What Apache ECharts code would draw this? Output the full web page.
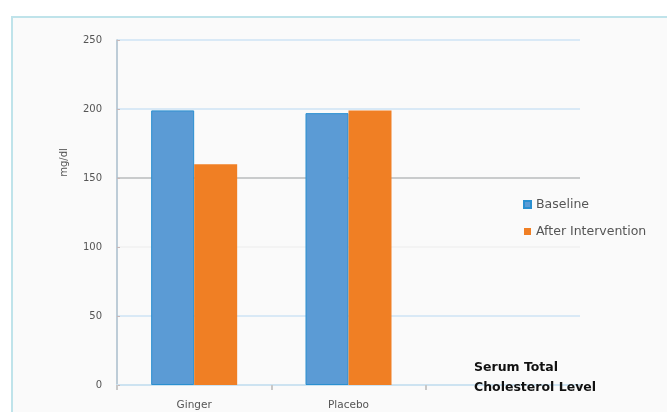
<!DOCTYPE html>
<html>
<head>
<meta charset="utf-8">
<script src="https://cdn.jsdelivr.net/npm/echarts@6/dist/echarts.min.js"></script>
<style>
html,body{margin:0;padding:0;background:#ffffff;}
#chart{width:667px;height:412px;}
</style>
</head>
<body>
<div id="chart"></div>
<script>
const categories = ['Ginger', 'Placebo', ''];
const baseline = [199, 197, null];
const afterIntervention = [160, 199, null];
const yTicks = [0, 50, 100, 150, 200, 250];

const chart = echarts.init(document.getElementById('chart'));
chart.setOption({
  backgroundColor: '#ffffff',
  animation: false,
  graphic: [{
    type: 'rect',
    shape: { x: 12, y: 17, width: 670, height: 400 },
    style: { fill: '#fafafa', stroke: '#bfe3ea', lineWidth: 2 },
    z: -10
  }],
  title: {
    text: 'Serum Total\nCholesterol Level',
    left: 469, top: 353,
    textStyle: { fontFamily: 'DejaVu Sans', fontSize: 12.5, fontWeight: 'bold', color: '#111', lineHeight: 20 }
  },
  legend: {
    orient: 'vertical',
    left: 518, top: 193,
    itemWidth: 7, itemHeight: 7, itemGap: 14,
    icon: 'rect',
    textStyle: { fontFamily: 'DejaVu Sans', fontSize: 12.5, color: '#555' },
    data: ['Baseline', 'After Intervention']
  },
  grid: { left: 117, right: 87, top: 40, bottom: 27 },
  xAxis: {
    type: 'category',
    data: categories,
    axisLine: { lineStyle: { color: '#cde3f1', width: 2 } },
    axisTick: { show: true, length: 5, lineStyle: { color: '#c8c8c8', width: 2 } },
    axisLabel: { fontFamily: 'DejaVu Sans', fontSize: 10.5, color: '#555', margin: 15 }
  },
  yAxis: {
    type: 'value',
    min: 0, max: 250, interval: 50,
    name: 'mg/dl',
    nameLocation: 'middle',
    nameGap: 48,
    nameRotate: 90,
    nameTextStyle: { fontFamily: 'DejaVu Sans', fontSize: 10, color: '#555', padding: [0, 0, 0, 100] },
    axisLine: { show: true, lineStyle: { color: '#a8bccb', width: 1.5 } },
    axisTick: { show: true, length: 3, inside: true, lineStyle: { color: '#c8b8b8' } },
    axisLabel: { fontFamily: 'DejaVu Sans', fontSize: 10, color: '#555', margin: 15 },
    splitLine: { lineStyle: { color: ['#d9e9f6', '#d9e9f6', '#f3f3f3', '#c9cbcc', '#d9e9f6', '#d9e9f6'], width: 2 } }
  },
  series: [
    { name: 'Baseline', type: 'bar', data: baseline, barWidth: 43, barGap: '0%',
      itemStyle: { color: '#5b9bd5', borderColor: '#2a8fd0', borderWidth: 1 } },
    { name: 'After Intervention', type: 'bar', data: afterIntervention, barWidth: 43,
      itemStyle: { color: '#f07f24' } }
  ]
});
</script>
</body>
</html>
